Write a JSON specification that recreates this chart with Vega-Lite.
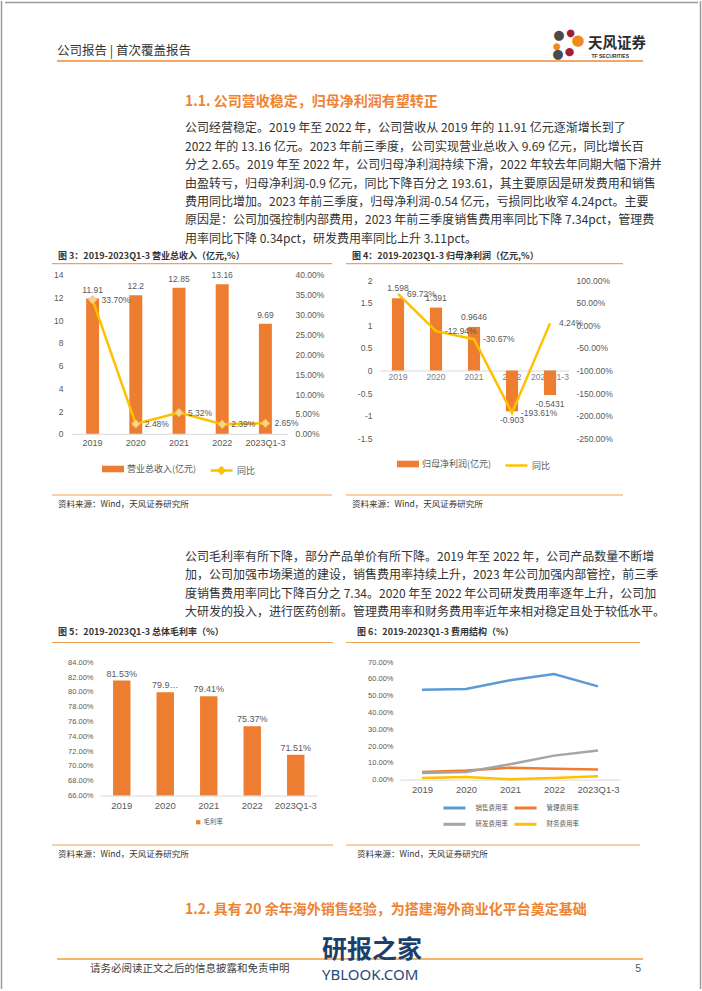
{
"$schema": "https://vega.github.io/schema/vega-lite/v6.json",
"padding": 0,
"background": "white",
"spacing": 0,
"resolve": {"scale": {"color": "independent", "fill": "independent", "stroke": "independent"}},
"config": {
  "view": {"stroke": null},
  "font": "Liberation Sans, Noto Sans CJK SC",
  "axis": {"grid": false, "ticks": false, "domain": false, "labelColor": "#595959", "labelFont": "Liberation Sans, Noto Sans CJK SC", "labelFontSize": 8},
  "legend": {"labelFont": "Noto Sans CJK SC", "labelColor": "#595959", "layout": {"bottom": {"anchor": "middle", "direction": "horizontal", "margin": 12}}},
  "locale": {"number": {"decimal": ".", "thousands": ",", "grouping": [3], "currency": ["$", ""], "minus": "-"}}
},
"hconcat": [
  {"width": 3, "height": 988, "data": {"values": [{}]}, "mark": {"type": "rule", "color": "#9a9a9a", "strokeWidth": 1.5}, "encoding": {"x": {"datum": 0.5, "type": "quantitative", "scale": {"domain": [0, 1]}, "axis": null}}},
  {"spacing": 0, "resolve": {"scale": {"color": "independent", "fill": "independent", "stroke": "independent"}}, "vconcat": [
    {"spacing": 0, "bounds": "flush", "hconcat": [
      {"width": 1.5, "height": 3, "data": {"values": []}, "mark": "point"},
      {"width": 693, "height": 3, "data": {"values": [{}]}, "mark": {"type": "rule", "color": "#9a9a9a", "strokeWidth": 1.5}, "encoding": {"y": {"datum": 0.5, "type": "quantitative", "scale": {"domain": [0, 1]}, "axis": null}}}
    ]},
    {"spacing": 0, "bounds": "flush", "hconcat": [
      {"width": 54, "height": 85.5, "data": {"values": []}, "mark": "point"},
      {"width": 586, "height": 57,
       "data": {"values": [{"h": "公司报告 | 首次覆盖报告", "logo": "天风证券", "en": "TF SECURITIES", "dot": "●"}]},
       "encoding": {"y": {"datum": 0, "type": "quantitative", "scale": {"domain": [0, 1]}, "axis": null}},
       "layer": [
         {"mark": {"type": "rule", "color": "#EE8A3C", "strokeWidth": 1.5}, "encoding": {}},
         {"mark": {"type": "text", "align": "left", "baseline": "middle", "dy": -10, "fontSize": 12.5, "color": "#333333", "font": "Noto Sans CJK SC"},
          "encoding": {"x": {"datum": 0, "type": "quantitative", "scale": {"domain": [0, 1]}, "axis": null}, "text": {"field": "h"}}},
         {"mark": {"type": "text", "align": "right", "baseline": "middle", "dx": 3, "dy": -17, "fontSize": 14.5, "fontWeight": "bold", "color": "#2b2b2b", "font": "Noto Sans CJK SC"},
          "encoding": {"x": {"datum": 1, "type": "quantitative", "scale": {"domain": [0, 1]}, "axis": null}, "text": {"field": "logo"}}},
         {"mark": {"type": "text", "align": "right", "baseline": "middle", "dx": -14, "dy": -5.5, "fontSize": 5, "fontWeight": "bold", "color": "#333333"},
          "encoding": {"x": {"datum": 1, "type": "quantitative", "scale": {"domain": [0, 1]}, "axis": null}, "text": {"field": "en"}}},
         {"mark": {"type": "text", "align": "center", "baseline": "middle", "dx": -84, "dy": -26, "fontSize": 13, "color": "#4a4a4a", "font": "DejaVu Sans"},
          "encoding": {"x": {"datum": 1, "type": "quantitative", "scale": {"domain": [0, 1]}, "axis": null}, "text": {"field": "dot"}}},
         {"mark": {"type": "text", "align": "center", "baseline": "middle", "dx": -72.5, "dy": -28, "fontSize": 10, "color": "#A31F34", "font": "DejaVu Sans"},
          "encoding": {"x": {"datum": 1, "type": "quantitative", "scale": {"domain": [0, 1]}, "axis": null}, "text": {"field": "dot"}}},
         {"mark": {"type": "text", "align": "center", "baseline": "middle", "dx": -65, "dy": -21, "fontSize": 15, "color": "#F08A1D", "font": "DejaVu Sans"},
          "encoding": {"x": {"datum": 1, "type": "quantitative", "scale": {"domain": [0, 1]}, "axis": null}, "text": {"field": "dot"}}},
         {"mark": {"type": "text", "align": "center", "baseline": "middle", "dx": -86, "dy": -15, "fontSize": 9, "color": "#F08A1D", "font": "DejaVu Sans"},
          "encoding": {"x": {"datum": 1, "type": "quantitative", "scale": {"domain": [0, 1]}, "axis": null}, "text": {"field": "dot"}}},
         {"mark": {"type": "text", "align": "center", "baseline": "middle", "dx": -85, "dy": -7, "fontSize": 13, "color": "#4a4a4a", "font": "DejaVu Sans"},
          "encoding": {"x": {"datum": 1, "type": "quantitative", "scale": {"domain": [0, 1]}, "axis": null}, "text": {"field": "dot"}}},
         {"mark": {"type": "text", "align": "center", "baseline": "middle", "dx": -73.5, "dy": -9, "fontSize": 11, "color": "#A31F34", "font": "DejaVu Sans"},
          "encoding": {"x": {"datum": 1, "type": "quantitative", "scale": {"domain": [0, 1]}, "axis": null}, "text": {"field": "dot"}}}
       ]}
    ]},
    {"spacing": 0, "bounds": "flush", "hconcat": [
      {"width": 182, "height": 28.1, "data": {"values": []}, "mark": "point"},
      {"width": 458, "height": 24,
       "data": {"values": [{"t": "1.1. 公司营收稳定，归母净利润有望转正"}]},
       "mark": {"type": "text", "align": "left", "baseline": "middle", "fontSize": 14, "fontWeight": "bold", "color": "#EE8433", "font": "Noto Sans CJK SC"},
       "encoding": {"x": {"datum": 0, "type": "quantitative", "scale": {"domain": [0, 1]}, "axis": null}, "y": {"datum": 0.5, "type": "quantitative", "scale": {"domain": [0, 1]}, "axis": null}, "text": {"field": "t"}}}
    ]},
    {"spacing": 0, "bounds": "flush", "hconcat": [
      {"width": 182, "height": 129.1, "data": {"values": []}, "mark": "point"},
      {"width": 458, "height": 129.1,
       "data": {"values": [
         {"line": 1, "t": "公司经营稳定。2019 年至 2022 年，公司营收从 2019 年的 11.91 亿元逐渐增长到了"},
         {"line": 2, "t": "2022 年的 13.16 亿元。2023 年前三季度，公司实现营业总收入 9.69 亿元，同比增长百"},
         {"line": 3, "t": "分之 2.65。2019 年至 2022 年，公司归母净利润持续下滑，2022 年较去年同期大幅下滑并"},
         {"line": 4, "t": "由盈转亏，归母净利润-0.9 亿元，同比下降百分之 193.61，其主要原因是研发费用和销售"},
         {"line": 5, "t": "费用同比增加。2023 年前三季度，归母净利润-0.54 亿元，亏损同比收窄 4.24pct。主要"},
         {"line": 6, "t": "原因是：公司加强控制内部费用，2023 年前三季度销售费用率同比下降 7.34pct，管理费"},
         {"line": 7, "t": "用率同比下降 0.34pct，研发费用率同比上升 3.11pct。"}
       ]},
       "mark": {"type": "text", "align": "left", "baseline": "middle", "fontSize": 12, "color": "#333333", "font": "Noto Sans CJK SC"},
       "encoding": {"x": {"datum": 0, "type": "quantitative", "scale": {"domain": [0, 1]}, "axis": null}, "y": {"field": "line", "type": "ordinal", "scale": {"type": "point", "padding": 0.5}, "axis": null}, "text": {"field": "t"}}}
    ]},
    {"spacing": 0, "bounds": "flush", "hconcat": [
      {"width": 49, "height": 16, "data": {"values": []}, "mark": "point"},
      {"width": 280, "height": 14.6, "data": {"values": [{"t": "图 3：2019-2023Q1-3 营业总收入（亿元,%）"}]},
       "layer": [
         {"mark": {"type": "text", "align": "left", "baseline": "middle", "dx": 6, "fontSize": 9, "fontWeight": "bold", "color": "#333333", "font": "Noto Sans CJK SC"},
          "encoding": {"x": {"datum": 0, "type": "quantitative", "scale": {"domain": [0, 1]}, "axis": null}, "y": {"datum": 0.5, "type": "quantitative", "scale": {"domain": [0, 1]}, "axis": null}, "text": {"field": "t"}}},
         {"mark": {"type": "rule", "color": "#F2A255", "strokeWidth": 1.2}, "encoding": {"y": {"datum": 0, "type": "quantitative", "scale": {"domain": [0, 1]}, "axis": null}}}
       ]},
      {"width": 14, "height": 1, "data": {"values": []}, "mark": "point"},
      {"width": 277, "height": 14.6, "data": {"values": [{"t": "图 4：2019-2023Q1-3 归母净利润（亿元,%）"}]},
       "layer": [
         {"mark": {"type": "text", "align": "left", "baseline": "middle", "dx": 6, "fontSize": 9, "fontWeight": "bold", "color": "#333333", "font": "Noto Sans CJK SC"},
          "encoding": {"x": {"datum": 0, "type": "quantitative", "scale": {"domain": [0, 1]}, "axis": null}, "y": {"datum": 0.5, "type": "quantitative", "scale": {"domain": [0, 1]}, "axis": null}, "text": {"field": "t"}}},
         {"mark": {"type": "rule", "color": "#F2A255", "strokeWidth": 1.2}, "encoding": {"y": {"datum": 0, "type": "quantitative", "scale": {"domain": [0, 1]}, "axis": null}}}
       ]}
    ]},
    {"spacing": 0, "bounds": "flush", "resolve": {"scale": {"color": "independent", "fill": "independent", "stroke": "independent"}}, "hconcat": [
      {"width": 67.5, "height": 226.1, "data": {"values": []}, "mark": "point"},
      {"width": 216, "height": 168.8,
       "data": {"values": [
         {"year": "2019", "rev": 11.91, "yoy": 0.337},
         {"year": "2020", "rev": 12.2, "yoy": 0.0248},
         {"year": "2021", "rev": 12.85, "yoy": 0.0532},
         {"year": "2022", "rev": 13.16, "yoy": 0.0239},
         {"year": "2023Q1-3", "rev": 9.69, "yoy": 0.0265}
       ]},
       "encoding": {"x": {"field": "year", "type": "nominal", "sort": null, "scale": {"type": "band", "paddingInner": 0.7, "paddingOuter": 0.35}, "axis": {"title": null, "labelAngle": 0, "domain": true, "domainColor": "#d9d9d9", "labelFontSize": 9, "labelPadding": 5}}},
       "layer": [
         {"encoding": {"y": {"field": "rev", "type": "quantitative", "scale": {"domain": [0, 14.863], "nice": false}, "axis": {"title": null, "values": [0, 2, 4, 6, 8, 10, 12, 14], "labelFontSize": 8.5, "labelPadding": 8}}},
          "layer": [
            {"mark": {"type": "bar"}, "encoding": {"fill": {"datum": "营业总收入(亿元)", "type": "nominal", "scale": {"range": ["#ED7D31"]},
              "legend": {"title": null, "orient": "bottom", "offset": 10, "symbolType": "M-1,-0.3H1V0.3H-1Z", "symbolSize": 484, "symbolStrokeWidth": 0, "labelFontSize": 9, "labelOffset": 3}}}},
            {"mark": {"type": "text", "baseline": "bottom", "dy": -4, "fontSize": 8.5, "color": "#595959"}, "encoding": {"text": {"field": "rev", "type": "quantitative"}}}
          ]},
         {"encoding": {"y": {"field": "yoy", "type": "quantitative", "scale": {"domain": [0, 0.42465], "nice": false}, "axis": {"title": null, "orient": "right", "values": [0, 0.05, 0.1, 0.15, 0.2, 0.25, 0.3, 0.35, 0.4], "format": ".2%", "labelFontSize": 8.5, "labelPadding": 8}}},
          "layer": [
            {"mark": {"type": "line", "strokeWidth": 2.5}, "encoding": {"stroke": {"datum": "同比", "type": "nominal", "scale": {"range": ["#FFC000"]},
              "legend": {"title": null, "orient": "bottom", "offset": 10, "symbolType": "M-1,0H1M-0.27,0L0,-0.27L0.27,0L0,0.27Z", "symbolSize": 484, "symbolStrokeWidth": 2.5, "labelFontSize": 9, "labelOffset": 3, "encode": {"symbols": {"update": {"fill": {"value": "#F7D58F"}}}}}}}},
            {"mark": {"type": "point", "shape": "diamond", "filled": true, "size": 70, "fill": "#F7D58F", "stroke": "#F2C14E", "strokeWidth": 1, "opacity": 1}, "encoding": {}},
            {"mark": {"type": "text", "align": "left", "baseline": "middle", "dx": 9, "fontSize": 8.5, "color": "#595959"}, "encoding": {"text": {"field": "yoy", "type": "quantitative", "format": ".2%"}}}
          ]}
       ],
       "resolve": {"scale": {"y": "independent", "fill": "independent", "stroke": "independent"}}},
      {"width": 91.5, "height": 1, "data": {"values": []}, "mark": "point"},
      {"width": 190, "height": 173.3,
       "data": {"values": [
         {"year": "2019", "np": 1.598, "yoy": 0.6972},
         {"year": "2020", "np": 1.391, "yoy": -0.1294},
         {"year": "2021", "np": 0.9646, "yoy": -0.3067},
         {"year": "2022", "np": -0.903, "yoy": -1.9361},
         {"year": "2023Q1-3", "np": -0.5431, "yoy": 0.0424}
       ]},
       "encoding": {"x": {"field": "year", "type": "nominal", "sort": null, "scale": {"type": "band", "paddingInner": 0.68, "paddingOuter": 0.34}, "axis": {"title": null, "labelAngle": 0, "domain": true, "domainColor": "#d9d9d9", "labelFontSize": 8.5, "labelPadding": 2, "offset": -67.8, "labelColor": "#7f7f7f"}}},
       "layer": [
         {"encoding": {"y": {"field": "np", "type": "quantitative", "scale": {"domain": [-1.5, 2.334], "nice": false}, "axis": {"title": null, "values": [-1.5, -1, -0.5, 0, 0.5, 1, 1.5, 2], "format": "~g", "labelFontSize": 8.5, "labelPadding": 7}}},
          "layer": [
            {"mark": {"type": "bar"}, "encoding": {"fill": {"datum": "归母净利润(亿元)", "type": "nominal", "scale": {"range": ["#ED7D31"]},
              "legend": {"title": null, "orient": "bottom", "offset": 14, "symbolType": "M-1,-0.3H1V0.3H-1Z", "symbolSize": 484, "symbolStrokeWidth": 0, "labelFontSize": 9, "labelOffset": 3}}}},
            {"transform": [{"filter": "datum.np >= 0"}], "mark": {"type": "text", "baseline": "bottom", "dy": -5, "fontSize": 8.5, "color": "#595959"}, "encoding": {"text": {"field": "np", "type": "quantitative"}}},
            {"transform": [{"filter": "datum.np < 0"}], "mark": {"type": "text", "baseline": "top", "dy": 5, "fontSize": 8.5, "color": "#595959"}, "encoding": {"text": {"field": "np", "type": "quantitative"}}}
          ]},
         {"encoding": {"y": {"field": "yoy", "type": "quantitative", "scale": {"domain": [-2.5, 1.334], "nice": false}, "axis": {"title": null, "orient": "right", "values": [-2.5, -2, -1.5, -1, -0.5, 0, 0.5, 1], "format": ".2%", "labelFontSize": 8.5, "labelPadding": 7}}},
          "layer": [
            {"mark": {"type": "line", "strokeWidth": 2.5}, "encoding": {"stroke": {"datum": "同比", "type": "nominal", "scale": {"range": ["#FFC000"]},
              "legend": {"title": null, "orient": "bottom", "offset": 14, "symbolType": "stroke", "symbolSize": 484, "symbolStrokeWidth": 2.5, "labelFontSize": 9, "labelOffset": 3}}}},
            {"mark": {"type": "text", "align": "left", "baseline": "middle", "dx": 9, "fontSize": 8.5, "color": "#595959"}, "encoding": {"text": {"field": "yoy", "type": "quantitative", "format": ".2%"}}}
          ]}
       ],
       "resolve": {"scale": {"y": "independent", "fill": "independent", "stroke": "independent"}}}
    ]},
    {"spacing": 0, "bounds": "flush", "hconcat": [
      {"width": 49, "height": 55.5, "data": {"values": []}, "mark": "point"},
      {"width": 280, "height": 21, "data": {"values": [{"t": "资料来源：Wind，天风证券研究所"}]},
       "encoding": {"y": {"datum": 1, "type": "quantitative", "scale": {"domain": [0, 1]}, "axis": null}},
       "layer": [
         {"mark": {"type": "rule", "color": "#F2A255", "strokeWidth": 1.2, "yOffset": 3}, "encoding": {}},
         {"mark": {"type": "text", "align": "left", "baseline": "middle", "dx": 6, "dy": 12, "fontSize": 8.5, "color": "#333333", "font": "Noto Sans CJK SC"},
          "encoding": {"x": {"datum": 0, "type": "quantitative", "scale": {"domain": [0, 1]}, "axis": null}, "text": {"field": "t"}}}
       ]},
      {"width": 14, "height": 1, "data": {"values": []}, "mark": "point"},
      {"width": 277, "height": 21, "data": {"values": [{"t": "资料来源：Wind，天风证券研究所"}]},
       "encoding": {"y": {"datum": 1, "type": "quantitative", "scale": {"domain": [0, 1]}, "axis": null}},
       "layer": [
         {"mark": {"type": "rule", "color": "#F2A255", "strokeWidth": 1.2, "yOffset": 3}, "encoding": {}},
         {"mark": {"type": "text", "align": "left", "baseline": "middle", "dx": 6, "dy": 12, "fontSize": 8.5, "color": "#333333", "font": "Noto Sans CJK SC"},
          "encoding": {"x": {"datum": 0, "type": "quantitative", "scale": {"domain": [0, 1]}, "axis": null}, "text": {"field": "t"}}}
       ]}
    ]},
    {"spacing": 0, "bounds": "flush", "hconcat": [
      {"width": 182, "height": 73.3, "data": {"values": []}, "mark": "point"},
      {"width": 458, "height": 73.3,
       "data": {"values": [
         {"line": 1, "t": "公司毛利率有所下降，部分产品单价有所下降。2019 年至 2022 年，公司产品数量不断增"},
         {"line": 2, "t": "加，公司加强市场渠道的建设，销售费用率持续上升，2023 年公司加强内部管控，前三季"},
         {"line": 3, "t": "度销售费用率同比下降百分之 7.34。2020 年至 2022 年公司研发费用率逐年上升，公司加"},
         {"line": 4, "t": "大研发的投入，进行医药创新。管理费用率和财务费用率近年来相对稳定且处于较低水平。"}
       ]},
       "mark": {"type": "text", "align": "left", "baseline": "middle", "fontSize": 12, "color": "#333333", "font": "Noto Sans CJK SC"},
       "encoding": {"x": {"datum": 0, "type": "quantitative", "scale": {"domain": [0, 1]}, "axis": null}, "y": {"field": "line", "type": "ordinal", "scale": {"type": "point", "padding": 0.5}, "axis": null}, "text": {"field": "t"}}}
    ]},
    {"spacing": 0, "bounds": "flush", "hconcat": [
      {"width": 49, "height": 22, "data": {"values": []}, "mark": "point"},
      {"width": 281, "height": 20.5, "data": {"values": [{"t": "图 5：2019-2023Q1-3 总体毛利率（%）"}]},
       "layer": [
         {"mark": {"type": "text", "align": "left", "baseline": "middle", "dx": 6, "fontSize": 9, "fontWeight": "bold", "color": "#333333", "font": "Noto Sans CJK SC"},
          "encoding": {"x": {"datum": 0, "type": "quantitative", "scale": {"domain": [0, 1]}, "axis": null}, "y": {"datum": 0.5, "type": "quantitative", "scale": {"domain": [0, 1]}, "axis": null}, "text": {"field": "t"}}},
         {"mark": {"type": "rule", "color": "#F2A255", "strokeWidth": 1.2}, "encoding": {"y": {"datum": 0, "type": "quantitative", "scale": {"domain": [0, 1]}, "axis": null}}}
       ]},
      {"width": 13, "height": 1, "data": {"values": []}, "mark": "point"},
      {"width": 294, "height": 20.5, "data": {"values": [{"t": "图 6：2019-2023Q1-3 费用结构（%）"}]},
       "layer": [
         {"mark": {"type": "text", "align": "left", "baseline": "middle", "dx": 11, "fontSize": 9, "fontWeight": "bold", "color": "#333333", "font": "Noto Sans CJK SC"},
          "encoding": {"x": {"datum": 0, "type": "quantitative", "scale": {"domain": [0, 1]}, "axis": null}, "y": {"datum": 0.5, "type": "quantitative", "scale": {"domain": [0, 1]}, "axis": null}, "text": {"field": "t"}}},
         {"mark": {"type": "rule", "color": "#F2A255", "strokeWidth": 1.2}, "encoding": {"y": {"datum": 0, "type": "quantitative", "scale": {"domain": [0, 1]}, "axis": null}}}
       ]}
    ]},
    {"spacing": 0, "bounds": "flush", "resolve": {"scale": {"color": "independent", "fill": "independent", "stroke": "independent"}}, "hconcat": [
      {"width": 96.5, "height": 197.6, "data": {"values": []}, "mark": "point"},
      {"width": 217.5, "height": 151.6,
       "data": {"values": [
         {"year": "2019", "gm": 0.8153, "lab": "81.53%"},
         {"year": "2020", "gm": 0.7996, "lab": "79.9…"},
         {"year": "2021", "gm": 0.7941, "lab": "79.41%"},
         {"year": "2022", "gm": 0.7537, "lab": "75.37%"},
         {"year": "2023Q1-3", "gm": 0.7151, "lab": "71.51%"}
       ]},
       "encoding": {
         "x": {"field": "year", "type": "nominal", "sort": null, "scale": {"type": "band", "paddingInner": 0.6, "paddingOuter": 0.3}, "axis": {"title": null, "labelAngle": 0, "domain": true, "domainColor": "#d9d9d9", "labelFontSize": 9.5, "labelPadding": 5}},
         "y": {"field": "gm", "type": "quantitative", "scale": {"domain": [0.66, 0.86456], "nice": false, "zero": false}, "axis": {"title": null, "values": [0.66, 0.68, 0.7, 0.72, 0.74, 0.76, 0.78, 0.8, 0.82, 0.84], "format": ".2%", "labelFontSize": 7.5, "labelPadding": 7}}
       },
       "layer": [
         {"mark": {"type": "bar"}, "encoding": {"y2": {"datum": 0.66}, "fill": {"datum": "毛利率", "type": "nominal", "scale": {"range": ["#ED7D31"]},
           "legend": {"title": null, "orient": "bottom", "offset": 8, "symbolType": "square", "symbolSize": 18, "symbolStrokeWidth": 0, "labelFontSize": 6.5, "labelOffset": 2}}}},
         {"mark": {"type": "text", "baseline": "bottom", "dy": -2, "fontSize": 9, "color": "#595959"}, "encoding": {"text": {"field": "lab"}}}
       ]},
      {"width": 82, "height": 1, "data": {"values": []}, "mark": "point"},
      {"width": 220, "height": 135.6,
       "data": {"values": [
         {"year": "2019", "k": "销售费用率", "v": 0.536},
         {"year": "2020", "k": "销售费用率", "v": 0.540},
         {"year": "2021", "k": "销售费用率", "v": 0.592},
         {"year": "2022", "k": "销售费用率", "v": 0.629},
         {"year": "2023Q1-3", "k": "销售费用率", "v": 0.556},
         {"year": "2019", "k": "管理费用率", "v": 0.046},
         {"year": "2020", "k": "管理费用率", "v": 0.054},
         {"year": "2021", "k": "管理费用率", "v": 0.070},
         {"year": "2022", "k": "管理费用率", "v": 0.064},
         {"year": "2023Q1-3", "k": "管理费用率", "v": 0.060},
         {"year": "2019", "k": "研发费用率", "v": 0.040},
         {"year": "2020", "k": "研发费用率", "v": 0.045},
         {"year": "2021", "k": "研发费用率", "v": 0.091},
         {"year": "2022", "k": "研发费用率", "v": 0.143},
         {"year": "2023Q1-3", "k": "研发费用率", "v": 0.173},
         {"year": "2019", "k": "财务费用率", "v": 0.010},
         {"year": "2020", "k": "财务费用率", "v": 0.016},
         {"year": "2021", "k": "财务费用率", "v": 0.002},
         {"year": "2022", "k": "财务费用率", "v": 0.010},
         {"year": "2023Q1-3", "k": "财务费用率", "v": 0.020}
       ]},
       "mark": {"type": "line", "strokeWidth": 2.5},
       "encoding": {
         "x": {"field": "year", "type": "nominal", "sort": null, "scale": {"type": "point", "padding": 0.5}, "axis": {"title": null, "labelAngle": 0, "domain": true, "domainColor": "#d9d9d9", "labelFontSize": 9.5, "labelPadding": 5}},
         "y": {"field": "v", "type": "quantitative", "scale": {"domain": [0, 0.80853], "nice": false}, "axis": {"title": null, "values": [0, 0.1, 0.2, 0.3, 0.4, 0.5, 0.6, 0.7], "format": ".2%", "labelFontSize": 7.5, "labelPadding": 7}},
         "color": {"field": "k", "type": "nominal", "scale": {"domain": ["销售费用率", "管理费用率", "研发费用率", "财务费用率"], "range": ["#5B9BD5", "#ED7D31", "#A5A5A5", "#FFC000"]},
           "legend": {"title": null, "orient": "bottom", "offset": 6, "columns": 2, "symbolType": "M-2,0H2", "symbolSize": 121, "symbolOffset": 5.5, "symbolStrokeWidth": 3, "labelFontSize": 6.5, "labelOffset": 14, "rowPadding": 3.3, "columnPadding": 0}}
       }}
    ]},
    {"spacing": 0, "bounds": "flush", "hconcat": [
      {"width": 49, "height": 57.3, "data": {"values": []}, "mark": "point"},
      {"width": 281, "height": 21, "data": {"values": [{"t": "资料来源：Wind，天风证券研究所"}]},
       "encoding": {"y": {"datum": 1, "type": "quantitative", "scale": {"domain": [0, 1]}, "axis": null}},
       "layer": [
         {"mark": {"type": "rule", "color": "#F2A255", "strokeWidth": 1.2, "yOffset": 3}, "encoding": {}},
         {"mark": {"type": "text", "align": "left", "baseline": "middle", "dx": 6, "dy": 12, "fontSize": 8.5, "color": "#333333", "font": "Noto Sans CJK SC"},
          "encoding": {"x": {"datum": 0, "type": "quantitative", "scale": {"domain": [0, 1]}, "axis": null}, "text": {"field": "t"}}}
       ]},
      {"width": 13, "height": 1, "data": {"values": []}, "mark": "point"},
      {"width": 294, "height": 21, "data": {"values": [{"t": "资料来源：Wind，天风证券研究所"}]},
       "encoding": {"y": {"datum": 1, "type": "quantitative", "scale": {"domain": [0, 1]}, "axis": null}},
       "layer": [
         {"mark": {"type": "rule", "color": "#F2A255", "strokeWidth": 1.2, "yOffset": 3}, "encoding": {}},
         {"mark": {"type": "text", "align": "left", "baseline": "middle", "dx": 11, "dy": 12, "fontSize": 8.5, "color": "#333333", "font": "Noto Sans CJK SC"},
          "encoding": {"x": {"datum": 0, "type": "quantitative", "scale": {"domain": [0, 1]}, "axis": null}, "text": {"field": "t"}}}
       ]}
    ]},
    {"spacing": 0, "bounds": "flush", "hconcat": [
      {"width": 54, "height": 84, "data": {"values": []}, "mark": "point"},
      {"width": 586, "height": 84,
       "data": {"values": [{"h": "1.2. 具有 20 余年海外销售经验，为搭建海外商业化平台奠定基础", "t": "请务必阅读正文之后的信息披露和免责申明", "p": "5", "w1": "研报之家", "w2": "YBLOOK.COM"}]},
       "encoding": {"y": {"datum": 1, "type": "quantitative", "scale": {"domain": [0, 1]}, "axis": null}},
       "layer": [
         {"mark": {"type": "rule", "color": "#F39C33", "strokeWidth": 1.5, "yOffset": 59}, "encoding": {}},
         {"mark": {"type": "text", "align": "left", "baseline": "middle", "dx": 128, "dy": 10, "fontSize": 14, "fontWeight": "bold", "color": "#EE8433", "font": "Noto Sans CJK SC"},
          "encoding": {"x": {"datum": 0, "type": "quantitative", "scale": {"domain": [0, 1]}, "axis": null}, "text": {"field": "h"}}},
         {"mark": {"type": "text", "align": "left", "baseline": "middle", "dx": 33, "dy": 69, "fontSize": 10.5, "color": "#404040", "font": "Noto Sans CJK SC"},
          "encoding": {"x": {"datum": 0, "type": "quantitative", "scale": {"domain": [0, 1]}, "axis": null}, "text": {"field": "t"}}},
         {"mark": {"type": "text", "align": "right", "baseline": "middle", "dx": -2, "dy": 69, "fontSize": 10.5, "color": "#595959"},
          "encoding": {"x": {"datum": 1, "type": "quantitative", "scale": {"domain": [0, 1]}, "axis": null}, "text": {"field": "p"}}},
         {"mark": {"type": "text", "align": "left", "baseline": "middle", "dx": 265, "dy": 50, "fontSize": 25, "fontWeight": "bold", "color": "#1d3f6e", "font": "Noto Sans CJK SC"},
          "encoding": {"x": {"datum": 0, "type": "quantitative", "scale": {"domain": [0, 1]}, "axis": null}, "text": {"field": "w1"}}},
         {"mark": {"type": "text", "align": "left", "baseline": "middle", "dx": 265, "dy": 75, "fontSize": 15, "color": "#1d4a7c", "font": "Noto Sans"},
          "encoding": {"x": {"datum": 0, "type": "quantitative", "scale": {"domain": [0, 1]}, "axis": null}, "text": {"field": "w2"}}}
       ]}
    ]},
    {"width": 696, "height": 10.5, "data": {"values": []}, "mark": "point"},
    {"spacing": 0, "bounds": "flush", "hconcat": [
      {"width": 1.5, "height": 3, "data": {"values": []}, "mark": "point"},
      {"width": 693, "height": 3, "data": {"values": [{}]}, "mark": {"type": "rule", "color": "#9a9a9a", "strokeWidth": 1.5}, "encoding": {"y": {"datum": 0.5, "type": "quantitative", "scale": {"domain": [0, 1]}, "axis": null}}}
    ]}
  ]},
  {"width": 3, "height": 988, "data": {"values": [{}]}, "mark": {"type": "rule", "color": "#9a9a9a", "strokeWidth": 1.5}, "encoding": {"x": {"datum": 0.5, "type": "quantitative", "scale": {"domain": [0, 1]}, "axis": null}}}
]
}
